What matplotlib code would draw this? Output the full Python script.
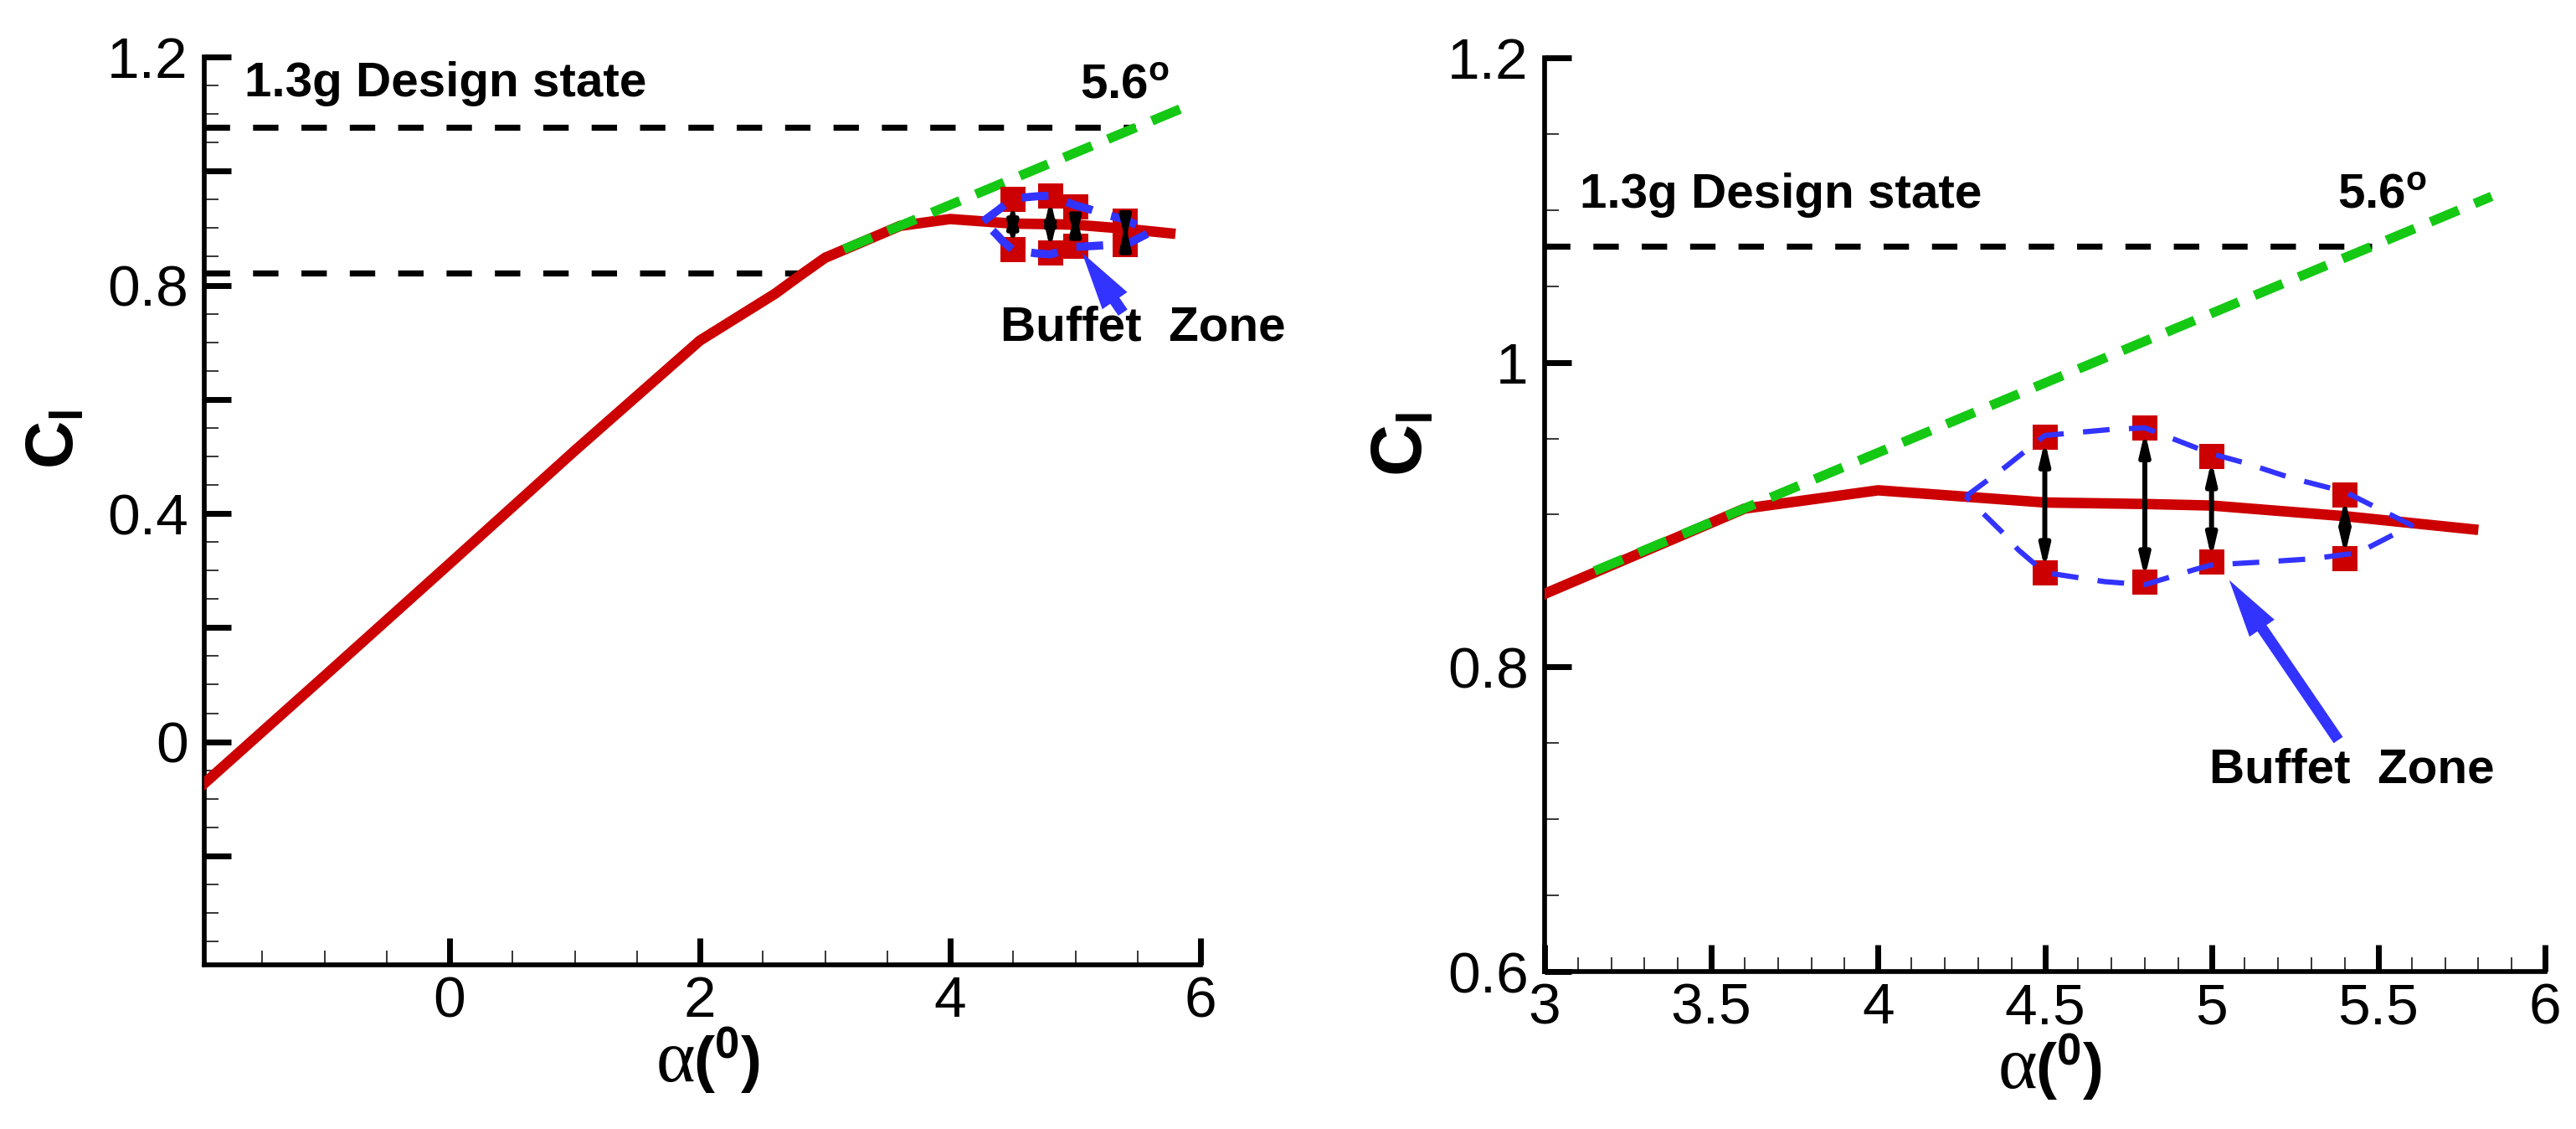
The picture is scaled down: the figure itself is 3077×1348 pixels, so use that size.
import matplotlib
matplotlib.use('Agg')
import matplotlib.pyplot as plt
from matplotlib.ticker import FixedLocator, FixedFormatter, MultipleLocator

plt.rcParams['font.family'] = ['Liberation Sans', 'DejaVu Sans']
plt.rcParams['mathtext.fontset'] = 'custom'
plt.rcParams['mathtext.rm'] = 'Liberation Serif'
plt.rcParams['mathtext.bf'] = 'Liberation Sans:bold'
plt.rcParams['mathtext.it'] = 'Liberation Sans:italic'
plt.rcParams['mathtext.sf'] = 'Liberation Sans'

# ---------------- data ----------------
cl_alpha = [-2.0, -1.0, 0.0, 1.0, 2.0, 2.6, 2.8, 3.0, 3.6, 4.0, 4.5, 4.8, 5.0, 5.4, 5.8]
cl_values = [-0.081, 0.115, 0.312, 0.51, 0.703, 0.785, 0.817, 0.848, 0.904, 0.916,
             0.908, 0.907, 0.906, 0.899, 0.890]

extrap_alpha = [3.15, 5.84]
extrap_cl = [0.863, 1.109]

design_cl = 1.076
design_alpha_end = 5.48
onset_cl = 0.822
onset_alpha_end = 2.78

buffet_alpha = [4.5, 4.8, 5.0, 5.4]
buffet_upper = [0.951, 0.957, 0.938, 0.913]
buffet_lower = [0.862, 0.856, 0.869, 0.871]

envelope_alpha = [4.263, 4.38, 4.5, 4.7, 4.8, 5.0, 5.1, 5.24, 5.4, 5.6,
                  5.44, 5.3, 5.16, 5.0, 4.95, 4.8, 4.68, 4.5, 4.42, 4.37, 4.263]
envelope_cl = [0.912, 0.931, 0.952, 0.956, 0.957, 0.940, 0.934, 0.924, 0.915, 0.893,
               0.875, 0.871, 0.869, 0.867, 0.864, 0.854, 0.856, 0.862, 0.877, 0.889, 0.912]

zone_arrow_tail = (5.38, 0.752)
zone_arrow_tip = (5.053, 0.857)

left_xticks = [0, 2, 4, 6]
left_xticklabels = ['0', '2', '4', '6']
left_yticks = [-0.2, 0.0, 0.2, 0.4, 0.6, 0.8, 1.0, 1.2]
left_yticklabels = ['', '0', '', '0.4', '', '0.8', '', '1.2']

right_xticks = [3, 3.5, 4, 4.5, 5, 5.5, 6]
right_xticklabels = ['3', '3.5', '4', '4.5', '5', '5.5', '6']
right_yticks = [0.6, 0.8, 1.0, 1.2]
right_yticklabels = ['0.6', '0.8', '1', '1.2']

# ---------------- style ----------------
RED = '#CC0000'
GREEN = '#14C814'
BLUE = '#3333FF'
W, H = 3077, 1348

fig = plt.figure(figsize=(W / 100, H / 100), dpi=100)
ax1 = fig.add_axes([244 / W, 1 - 1152 / H, (1434 - 244) / W, (1152 - 68) / H])
ax2 = fig.add_axes([1845 / W, 1 - 1160 / H, (3040 - 1845) / W, (1160 - 69) / H])


def draw_panel(ax, xlim, ylim, blue_lw, blue_dash):
    ax.set_xlim(*xlim)
    ax.set_ylim(*ylim)
    x0 = xlim[0]
    ax.plot([x0, design_alpha_end], [design_cl, design_cl], color='black', lw=5.2,
            dashes=(4.2, 3.8), zorder=2)
    ax.plot([x0, onset_alpha_end], [onset_cl, onset_cl], color='black', lw=5.2,
            dashes=(4.2, 3.8), zorder=2)
    ax.plot(cl_alpha, cl_values, color=RED, lw=9, zorder=3, solid_capstyle='butt')
    ax.plot(extrap_alpha, extrap_cl, color=GREEN, lw=8.2, dashes=(3.2, 1.8), zorder=4)
    ax.plot(buffet_alpha, buffet_upper, 's', ms=22, mew=0, color=RED, zorder=5)
    ax.plot(buffet_alpha, buffet_lower, 's', ms=22, mew=0, color=RED, zorder=5)
    ax.plot(envelope_alpha, envelope_cl, color=BLUE, lw=blue_lw, dashes=blue_dash, zorder=6)
    for a, lo, up in zip(buffet_alpha, buffet_lower, buffet_upper):
        ax.annotate('', xy=(a, up), xytext=(a, lo),
                    arrowprops=dict(arrowstyle='<|-|>,head_length=1.5,head_width=0.35',
                                    mutation_scale=10, lw=4.3, color='black',
                                    shrinkA=3, shrinkB=3), zorder=7)
    ax.annotate('', xy=zone_arrow_tip, xytext=zone_arrow_tail,
                arrowprops=dict(arrowstyle='simple,head_length=50,head_width=26,tail_width=9.5',
                                mutation_scale=1, lw=0, color=BLUE,
                                shrinkA=0, shrinkB=0), zorder=8)

    for s in ['top', 'right']:
        ax.spines[s].set_visible(False)
    for s in ['left', 'bottom']:
        ax.spines[s].set_linewidth(4.1)
    ax.tick_params(which='major', direction='in', length=23, width=5, labelsize=50)
    ax.tick_params(which='minor', direction='in', length=12, width=1.1)
    ax.tick_params(axis='x', which='major', pad=9)
    ax.tick_params(axis='y', which='major', pad=14)


draw_panel(ax1, (-1.96, 6.0), (-0.391, 1.2), 7.0, (3.3, 2.4))
draw_panel(ax2, (3.0, 6.0), (0.6, 1.2), 4.5, (5.1, 3.7))

ax1.xaxis.set_major_locator(FixedLocator(left_xticks))
ax1.xaxis.set_major_formatter(FixedFormatter(left_xticklabels))
ax1.xaxis.set_minor_locator(MultipleLocator(0.5))
ax1.yaxis.set_major_locator(FixedLocator(left_yticks))
ax1.yaxis.set_major_formatter(FixedFormatter(left_yticklabels))
ax1.yaxis.set_minor_locator(MultipleLocator(0.05))

ax2.xaxis.set_major_locator(FixedLocator(right_xticks))
ax2.xaxis.set_major_formatter(FixedFormatter(right_xticklabels))
ax2.xaxis.set_minor_locator(MultipleLocator(0.1))
ax2.yaxis.set_major_locator(FixedLocator(right_yticks))
ax2.yaxis.set_major_formatter(FixedFormatter(right_yticklabels))
ax2.yaxis.set_minor_locator(MultipleLocator(0.05))

bold = dict(fontsize=42, fontweight='bold', family='Liberation Sans', va='baseline', ha='left')
# left annotations
ax1.text(-1.638, 1.131, '1.3g Design state', **bold)
ax1.text(5.04, 1.128, r'$\mathbf{5.6}^{\mathbf{o}}$', fontsize=42, va='baseline', ha='left')
ax1.text(4.40, 0.7025, 'Buffet  Zone', **bold)
# right annotations
ax2.text(3.105, 1.1015, '1.3g Design state', **bold)
ax2.text(5.378, 1.1015, r'$\mathbf{5.6}^{\mathbf{o}}$', fontsize=42, va='baseline', ha='left')
ax2.text(4.994, 0.724, 'Buffet  Zone', **bold)

# y labels
fig.text(67 / W, 1 - 524 / H, r'$\mathbf{C}_{\mathbf{l}}$', rotation=90, fontsize=57,
         ha='center', va='center')
fig.text(1676 / W, 1 - 530 / H, r'$\mathbf{C}_{\mathbf{l}}$', rotation=90, fontsize=62,
         ha='center', va='center')

# x labels
for xr, yb in [(830, 1291), (2433, 1299)]:
    fig.text(xr / W, 1 - yb / H, '\u03b1', family='Liberation Serif', fontsize=64,
             ha='right', va='baseline')
    fig.text((xr - 2) / W, 1 - yb / H, r'$\mathbf{(}^{\mathbf{0}}\mathbf{)}$', fontsize=54,
             ha='left', va='baseline')

fig.savefig('out.png', dpi=100, facecolor='white')
